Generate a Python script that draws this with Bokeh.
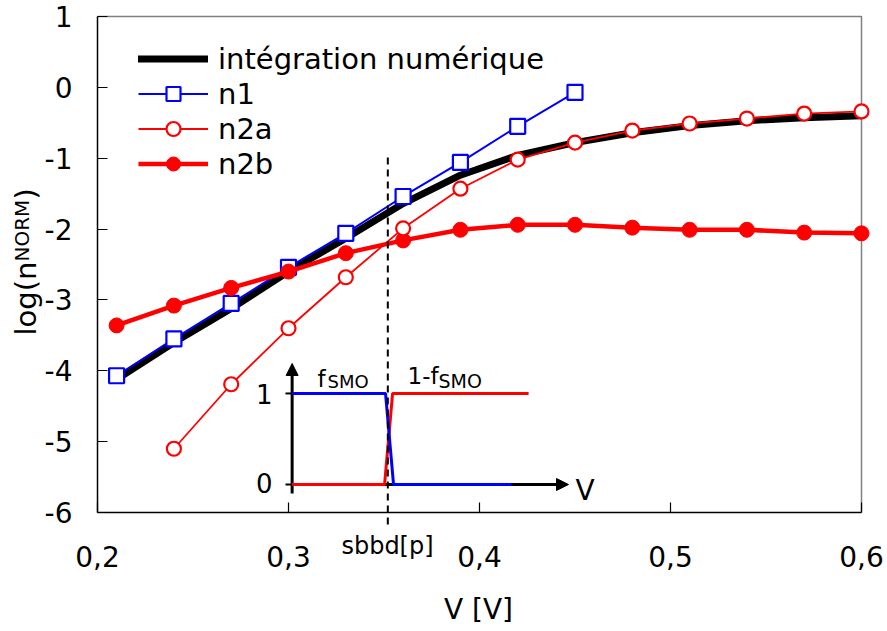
import math
from bokeh.plotting import figure
from bokeh.models import (FixedTicker, CustomJSTickFormatter, Legend, LegendItem,
                          Label, Arrow, NormalHead, Range1d)
from bokeh.embed import file_html
from bokeh.resources import INLINE

# ---------------- data ----------------
v_num = [0.21, 0.24, 0.27, 0.30, 0.33, 0.36, 0.39, 0.42, 0.45, 0.48, 0.51, 0.54, 0.57, 0.60]
log_num = [-4.12, -3.60, -3.12, -2.60, -2.13, -1.64, -1.24, -0.96, -0.78, -0.64, -0.54, -0.47, -0.43, -0.40]

v_n1 = [0.21, 0.24, 0.27, 0.30, 0.33, 0.36, 0.39, 0.42, 0.45]
log_n1 = [-4.07, -3.55, -3.05, -2.54, -2.06, -1.54, -1.06, -0.55, -0.07]

v_n2a = [0.24, 0.27, 0.30, 0.33, 0.36, 0.39, 0.42, 0.45, 0.48, 0.51, 0.54, 0.57, 0.60]
log_n2a = [-5.10, -4.19, -3.40, -2.68, -1.99, -1.43, -1.02, -0.78, -0.61, -0.51, -0.44, -0.37, -0.34]

v_n2b = [0.21, 0.24, 0.27, 0.30, 0.33, 0.36, 0.39, 0.42, 0.45, 0.48, 0.51, 0.54, 0.57, 0.60]
log_n2b = [-3.36, -3.08, -2.83, -2.60, -2.34, -2.16, -2.01, -1.94, -1.94, -1.98, -2.01, -2.01, -2.05, -2.06]

x_ticks = [0.2, 0.3, 0.4, 0.5, 0.6]
y_ticks = [-6, -5, -4, -3, -2, -1, 0, 1]
x_min, x_max = 0.2, 0.6
y_min, y_max = -6, 1

v_sbbd = 0.352  # dashed marker position

# inset (schematic) f_SMO and 1-f_SMO
inset_x0 = 0.3019
inset_xend = 0.4466
inset_lvl1 = -4.32
inset_lvl0 = -5.605
inset_ytop = -3.897
inset_ybot = -5.732
f_smo_x = [0.3019, 0.3508, 0.3550, 0.4168]
f_smo_y = [-4.32, -4.32, -5.605, -5.605]
g_smo_x = [0.3019, 0.3503, 0.3545, 0.4257]
g_smo_y = [-5.605, -5.605, -4.32, -4.32]

FONT = "DejaVu Sans"
RED = "#ff0000"
BLUE = "#0000ff"

# ---------------- layout (pixels) ----------------
W, H = 887, 631
FL, FR, FT, FB = 97, 861, 16, 512          # plot box edges in page pixels
sx = (FR - FL) / (x_max - x_min)
sy = (FB - FT) / (y_max - y_min)

def px2x(px):
    return x_min + (px - FL) / sx

def px2y(py):
    return y_max - (py - FT) / sy

p = figure(width=W, height=H,
           x_range=Range1d(px2x(0), px2x(W)), y_range=Range1d(px2y(H), px2y(0)),
           output_backend="svg", toolbar_location=None, min_border=0)
p.xgrid.visible = False
p.ygrid.visible = False
p.outline_line_color = None
p.background_fill_color = "white"
p.border_fill_color = "white"

p.xaxis.fixed_location = y_min
p.yaxis.fixed_location = x_min
p.xaxis.bounds = (x_min, x_max)
p.yaxis.bounds = (y_min, y_max)

for ax in (p.xaxis[0], p.yaxis[0]):
    ax.axis_line_color = "black"
    ax.axis_line_width = 1.5
    ax.major_tick_in = 10
    ax.major_tick_out = 0
    ax.major_tick_line_color = "black"
    ax.major_tick_line_width = 1.2
    ax.minor_tick_line_color = None
    ax.major_label_text_font = FONT
    ax.major_label_text_font_size = "28px"
    ax.major_label_text_color = "black"

p.xaxis.ticker = FixedTicker(ticks=x_ticks)
p.yaxis.ticker = FixedTicker(ticks=y_ticks)
p.xaxis.formatter = CustomJSTickFormatter(code="return tick.toFixed(1).replace('.', ',');")
p.yaxis.formatter = CustomJSTickFormatter(code="return tick.toFixed(0);")
p.xaxis.major_label_standoff = 33
p.yaxis.major_label_standoff = 25

# grey top / right frame edges
p.line([x_min, x_max, x_max], [y_max, y_max, y_min], line_color="#808080", line_width=1.5)

# ---------------- data series ----------------
r_num = p.line(v_num, log_num, line_color="black", line_width=7, line_cap="round", line_join="round")

r1l = p.line(v_n1, log_n1, line_color=BLUE, line_width=2)
r1s = p.scatter(v_n1, log_n1, marker="square", size=15, line_color=BLUE, line_width=2.2, fill_color="white")

r3l = p.line(v_n2b, log_n2b, line_color=RED, line_width=4.5)
r3s = p.scatter(v_n2b, log_n2b, marker="circle", size=15, line_color=RED, fill_color=RED)

r2l = p.line(v_n2a, log_n2a, line_color=RED, line_width=1.8)
r2s = p.scatter(v_n2a, log_n2a, marker="circle", size=14, line_color=RED, line_width=2.2, fill_color="white")

# ---------------- inset ----------------
p.add_layout(Arrow(end=NormalHead(size=12, fill_color="black", line_color="black"),
                   x_start=inset_x0, y_start=inset_ybot, x_end=inset_x0, y_end=inset_ytop,
                   line_color="black", line_width=3, level="underlay"))
p.add_layout(Arrow(end=NormalHead(size=12, fill_color="black", line_color="black"),
                   x_start=inset_x0, y_start=inset_lvl0, x_end=inset_xend, y_end=inset_lvl0,
                   line_color="black", line_width=3, level="underlay"))
p.segment(x0=[px2x(285), px2x(285)], y0=[inset_lvl1, inset_lvl0], x1=[inset_x0, inset_x0],
          y1=[inset_lvl1, inset_lvl0], line_color="black", line_width=2)
p.line(g_smo_x, g_smo_y, line_color=RED, line_width=3)
p.line(f_smo_x, f_smo_y, line_color=BLUE, line_width=3)

def lab(px, py, text, size, align="left", baseline="middle", angle=0.0, font=FONT):
    p.add_layout(Label(x=px2x(px), y=px2y(py), text=text, text_font=font, text_font_size=size,
                       text_align=align, text_baseline=baseline, angle=angle,
                       text_color="black"))

lab(272, 393, "1", "26px", align="right")
lab(272, 482, "0", "26px", align="right")
lab(317, 378.5, "f", "23px")
lab(327, 381, "SMO", "18px")
lab(407, 375, "1-f", "23px")
lab(438, 380, "SMO", "19px")
lab(575, 489.5, "V", "28px")

# dashed marker
p.add_layout(Arrow(end=None, x_start=v_sbbd, y_start=px2y(157), x_end=v_sbbd, y_end=px2y(524),
                   line_color="black", line_width=2, line_dash="7 5"))
lab(387, 545, "sbbd[p]", "24px", align="center")

# axis titles
lab(478, 609, "V [V]", "28px", align="center")
lab(25, 335, "log(n", "29px", angle=math.pi / 2)
lab(21.5, 261, "NORM", "20px", angle=math.pi / 2)
lab(25, 199, ")", "29px", angle=math.pi / 2)

# ---------------- legend ----------------
legend = Legend(items=[
    LegendItem(label="intégration numérique", renderers=[r_num]),
    LegendItem(label="n1", renderers=[r1l, r1s]),
    LegendItem(label="n2a", renderers=[r2l, r2s]),
    LegendItem(label="n2b", renderers=[r3l, r3s]),
], location=(138, H - 181), glyph_width=70, glyph_height=35, label_height=35,
   label_standoff=10, spacing=0, padding=0, margin=0,
   border_line_alpha=0, background_fill_alpha=0,
   label_text_font=FONT, label_text_font_size="29px", label_text_color="black")
p.add_layout(legend)

open("out.html", "w", encoding="utf-8").write(file_html(p, INLINE))
